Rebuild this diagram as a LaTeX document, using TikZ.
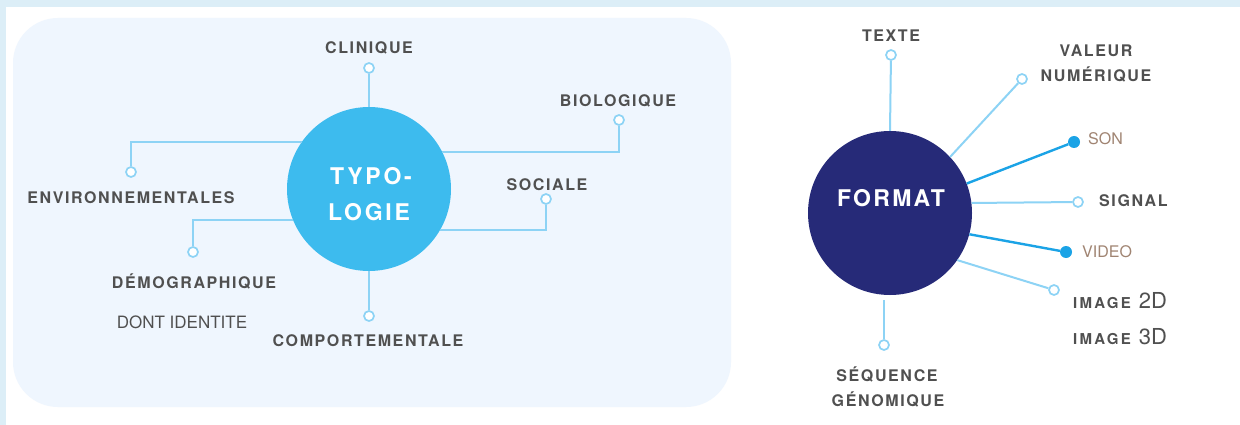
\documentclass[tikz,border=0pt]{standalone}
\usepackage{fontspec}
\setmainfont{TeX Gyre Heros}
\newfontfamily\lblfont[LetterSpace=10]{TeX Gyre Heros}
\newfontfamily\bigfont[LetterSpace=12]{TeX Gyre Heros}
\newfontfamily\smlfont[LetterSpace=15]{TeX Gyre Heros}
\newfontfamily\plainfont{TeX Gyre Heros}
\definecolor{framecol}{HTML}{DCEEF7}
\definecolor{panelcol}{HTML}{EFF6FE}
\definecolor{typcol}{HTML}{3DBBEE}
\definecolor{fmtcol}{HTML}{262A78}
\definecolor{lightln}{HTML}{8DD3F5}
\definecolor{darkln}{HTML}{1BA3E6}
\definecolor{txtgray}{HTML}{505050}
\definecolor{tancol}{HTML}{A08472}
\tikzset{
  lbl/.style={font=\lblfont\bfseries\fontsize{16}{18}\selectfont, text=txtgray, inner sep=0pt, anchor=base},
  plainlbl/.style={font=\plainfont\fontsize{16}{18}\selectfont, inner sep=0pt, anchor=base west},
  hub/.style={circle, minimum size=164pt, inner sep=0pt, text=white, align=center},
  ring/.style={circle, draw=lightln, line width=1.7pt, fill=white, minimum size=10pt, inner sep=0pt},
  dot/.style={circle, fill=darkln, minimum size=12pt, inner sep=0pt},
  thin/.style={draw=lightln, line width=2pt},
  thick/.style={draw=darkln, line width=2.4pt},
}
\begin{document}
\begin{tikzpicture}[x=1pt,y=-1pt]
\useasboundingbox (0,0) rectangle (1240,425);
\fill[framecol] (0,0) rectangle (1240,425);
\fill[white] (6,7) rectangle (1240,425);
\fill[panelcol, rounded corners=45pt] (13,18) rectangle (731,407);

% ---------- TYPOLOGIE ----------
\node[hub, fill=typcol] (typ) at (369,189) {};
\node[font=\bigfont\bfseries\fontsize{23}{25}\selectfont, text=white, inner sep=0pt, anchor=base] (typ1) at (371,184) {TYPO-};
\node[font=\bigfont\bfseries\fontsize{23}{25}\selectfont, text=white, inner sep=0pt, anchor=base] (typ2) at (369,220) {LOGIE};

\node[ring] (cli) at (369,68) {};
\node[ring] (bio) at (619,120) {};
\node[ring] (env) at (131,172) {};
\node[ring] (soc) at (546,199) {};
\node[ring] (dem) at (193,252) {};
\node[ring] (com) at (369,316) {};

\draw[thin] (typ.north) -- (cli);
\draw[thin] (typ.27.6) -| (bio);
\draw[thin] (typ.145) -| (env);
\draw[thin] (typ.-30) -| (soc);
\draw[thin] (typ.202.2) -| (dem);
\draw[thin] (typ.south) -- (com);

\node[lbl] (tcli) at (369,54) {CLINIQUE};
\node[lbl] (tbio) at (618,107) {BIOLOGIQUE};
\node[lbl] (tenv) at (131,204) {ENVIRONNEMENTALES};
\node[lbl] (tsoc) at (547,190) {SOCIALE};
\node[lbl] (tdem) at (194,288) {DÉMOGRAPHIQUE};
\node[font=\plainfont\fontsize{17}{19}\selectfont, text=txtgray, inner sep=0pt, anchor=base] (tdon) at (182,328) {DONT IDENTITE};
\node[lbl] (tcom) at (368,346) {COMPORTEMENTALE};

% ---------- FORMAT ----------
\node[hub, fill=fmtcol] (fmt) at (890,213) {};
\node[font=\lblfont\bfseries\fontsize{23}{25}\selectfont, text=white, inner sep=0pt, anchor=base] (fmtt) at (891,207) {FORMAT};

\node[ring] (tex) at (891,55) {};
\node[ring] (val) at (1022,79) {};
\node[dot] (son) at (1074,142) {};
\node[ring] (sig) at (1078,202) {};
\node[dot] (vid) at (1066,252) {};
\node[ring] (img) at (1054,290) {};
\node[ring] (seq) at (884,345) {};
\coordinate (seqtop) at (884,300);

\draw[thin] (fmt.north) -- (tex);
\draw[thin] (fmt.43) -- (val);
\draw[thick] (fmt.21) -- (son);
\draw[thin] (fmt.7.7) -- (sig);
\draw[thick] (fmt.-15) -- (vid);
\draw[thin] (fmt.-35) -- (img);
\draw[thin] (seqtop) -- (seq);

\node[lbl] (ttex) at (891,42) {TEXTE};
\node[lbl] (tval1) at (1096,57) {VALEUR};
\node[lbl] (tval2) at (1096,82) {NUMÉRIQUE};
\node[plainlbl, text=tancol] (tson) at (1088,145) {SON};
\node[lbl, anchor=base west] (tsig) at (1099,207) {SIGNAL};
\node[plainlbl, text=tancol] (tvid) at (1082,257) {VIDEO};
\node[inner sep=0pt, anchor=base west, text=txtgray] (timg2) at (1073,308) {{\smlfont\bfseries\fontsize{15}{16}\selectfont IMAGE}\hspace{8pt}{\plainfont\fontsize{22}{23}\selectfont 2D}};
\node[inner sep=0pt, anchor=base west, text=txtgray] (timg3) at (1073,344) {{\smlfont\bfseries\fontsize{15}{16}\selectfont IMAGE}\hspace{8pt}{\plainfont\fontsize{22}{23}\selectfont 3D}};
\node[lbl] (tseq1) at (887,381) {SÉQUENCE};
\node[lbl] (tseq2) at (888,406) {GÉNOMIQUE};
\end{tikzpicture}
\end{document}
